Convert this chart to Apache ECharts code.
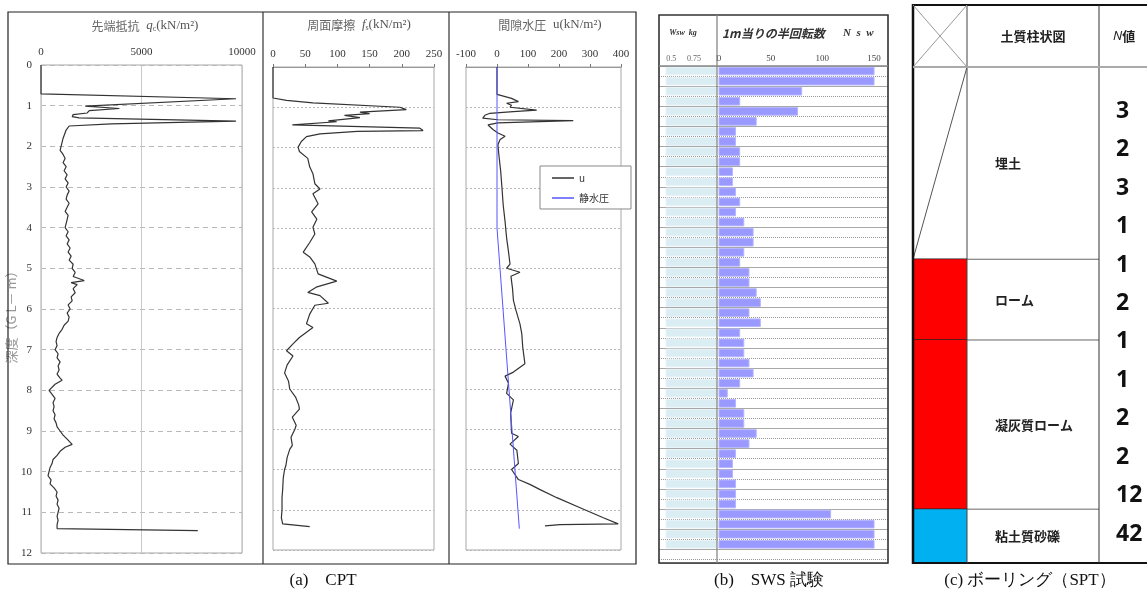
<!DOCTYPE html>
<html><head><meta charset="utf-8">
<script src="https://cdn.jsdelivr.net/npm/echarts@6/dist/echarts.min.js"></script>
<style>html,body{margin:0;padding:0;background:#fff}#c{width:1147px;height:592px}</style>
</head><body><div id="c"></div>
<script>
// ---------- DATA ----------
// CPT profiles: [depth (m), value]
const qcProfile = [[0,0],[0.71,0],[0.83,9700],[1.01,2200],[1.05,2250],[1.07,3900],[1.12,2400],[1.18,2300],[1.22,1600],[1.27,1550],[1.30,1900],[1.38,9700],[1.45,3500],[1.50,1400],[1.60,1250],[1.80,1100],[2.00,1000],[2.10,950],[2.20,1100],[2.30,1200],[2.40,1100],[2.50,1250],[2.60,1150],[2.70,1300],[2.80,1200],[2.90,1350],[3.00,1250],[3.10,1400],[3.20,1300],[3.30,1250],[3.40,1400],[3.50,1300],[3.60,1200],[3.70,1350],[3.80,1300],[3.90,1250],[4.00,1200],[4.10,1350],[4.20,1250],[4.30,1400],[4.40,1300],[4.50,1450],[4.60,1350],[4.70,1500],[4.80,1400],[4.90,1600],[5.00,1550],[5.10,1700],[5.20,1600],[5.30,2150],[5.35,1500],[5.40,1800],[5.50,1600],[5.60,1700],[5.70,1500],[5.80,1550],[5.90,1350],[6.00,1450],[6.10,1300],[6.20,1400],[6.30,1350],[6.40,1150],[6.50,1050],[6.60,900],[6.70,800],[6.80,750],[6.90,800],[7.00,700],[7.10,850],[7.20,800],[7.30,950],[7.40,850],[7.50,900],[7.60,800],[7.70,950],[7.75,1050],[7.85,700],[8.00,400],[8.10,550],[8.20,700],[8.30,600],[8.40,650],[8.50,600],[8.60,700],[8.70,650],[8.80,750],[8.90,800],[9.00,950],[9.10,1100],[9.20,1300],[9.33,1550],[9.40,1200],[9.50,950],[9.60,800],[9.70,600],[9.80,550],[9.90,450],[10.00,400],[10.10,350],[10.20,500],[10.30,450],[10.40,650],[10.50,800],[10.60,750],[10.70,850],[10.80,800],[10.90,900],[11.00,850],[11.10,800],[11.20,850],[11.30,800],[11.40,800],[11.45,7800]];
const fsProfile = [[0,0],[0.77,0],[0.83,21],[0.89,62],[1.0,197],[1.06,207],[1.12,135],[1.16,150],[1.2,111],[1.26,135],[1.34,86],[1.36,99],[1.44,30],[1.52,228],[1.58,233],[1.6,131],[1.66,73],[1.73,52],[1.85,44],[1.99,39],[2.1,41],[2.27,54],[2.48,57],[2.65,62],[2.9,65],[3.03,73],[3.15,62],[3.4,70],[3.6,60],[3.78,68],[3.98,62],[4.15,65],[4.36,57],[4.6,47],[4.72,57],[4.89,65],[5.14,70],[5.32,99],[5.47,67],[5.6,54],[5.68,73],[5.87,86],[5.92,65],[6.14,57],[6.38,52],[6.47,62],[6.72,41],[6.88,31],[7.05,21],[7.18,31],[7.4,22],[7.6,18],[7.8,24],[8.0,26],[8.2,35],[8.4,40],[8.5,41],[8.7,30],[8.9,36],[9.0,34],[9.2,28],[9.4,30],[9.5,26],[9.7,22],[9.9,20],[10.0,18],[10.2,16],[10.5,15],[10.7,14],[11.0,14],[11.2,13],[11.35,15],[11.42,57]];
const uProfile = [[0,0],[0.68,0],[0.78,47],[0.86,69],[0.9,31],[0.95,47],[1.0,42],[1.07,128],[1.11,52],[1.15,-23],[1.2,-39],[1.27,-46],[1.31,3],[1.33,246],[1.39,3],[1.44,-29],[1.56,-12],[1.64,3],[1.72,26],[1.8,10],[1.93,3],[2.18,6],[2.6,12],[3.0,16],[3.43,20],[3.84,26],[4.25,31],[4.58,37],[4.9,42],[5.0,31],[5.1,74],[5.2,45],[5.5,50],[5.8,53],[6.04,61],[6.38,74],[6.63,80],[6.96,83],[7.37,90],[7.58,53],[7.68,26],[7.86,37],[8.11,31],[8.27,53],[8.6,44],[9.1,47],[9.18,69],[9.37,42],[9.52,64],[9.85,69],[10.0,47],[10.25,69],[10.37,106],[10.5,139],[10.7,193],[10.95,268],[11.2,343],[11.35,391],[11.37,203],[11.4,155]];
const hydroProfile = [[0,0],[4.0,0],[11.47,72]];

// SWS: bottom depth of each 0.25 m row, Wsw (kN), Nsw (half turns / m)
const swsDepth = [0.25,0.5,0.75,1.0,1.25,1.5,1.75,2.0,2.25,2.5,2.75,3.0,3.25,3.5,3.75,4.0,4.25,4.5,4.75,5.0,5.25,5.5,5.75,6.0,6.25,6.5,6.75,7.0,7.25,7.5,7.75,8.0,8.25,8.5,8.75,9.0,9.25,9.5,9.75,10.0,10.25,10.5,10.75,11.0,11.25,11.5,11.75,12.0];
const swsWsw = [1,1,1,1,1,1,1,1,1,1,1,1,1,1,1,1,1,1,1,1,1,1,1,1,1,1,1,1,1,1,1,1,1,1,1,1,1,1,1,1,1,1,1,1,1,1,1,1];
const swsNsw = [150,150,80,20,76,36,16,16,20,20,13,13,16,20,16,24,33,33,24,20,29,29,36,40,29,40,20,24,24,29,33,20,8,16,24,24,36,29,16,13,13,16,16,16,108,150,150,150];
const wswTicks = [0.5,0.75,1];

// Boring log (SPT)
const layerNames = ['埋土','ローム','凝灰質ローム','粘土質砂礫'];
const layerTop = [0,5.0,7.1,11.5];
const layerBottom = [5.0,7.1,11.5,12.9];
const layerColors = [null,'#ff0000','#ff0000','#00b0f0'];
const sptDepth = [1.15,2.15,3.15,4.15,5.15,6.15,7.15,8.15,9.15,10.15,11.15,12.15];
const sptN = [3,2,3,1,1,2,1,1,2,2,12,42];

// ---------- CHART ----------
const SERIF = '"Liberation Serif","DejaVu Serif",serif';
const JP = '"Noto Sans CJK JP",sans-serif';
const chart = echarts.init(document.getElementById('c'), null, {renderer:'canvas', width:1147, height:592});

const cptX = (min, max, interval, gi, ticks) => ({
  type:'value', gridIndex:gi, min, max, interval, position:'top',
  axisLine:{show:ticks, lineStyle:{color:'#999'}},
  axisTick:{show:ticks, inside:false, length:3, lineStyle:{color:'#777'}},
  axisLabel:{color:'#333', fontFamily:SERIF, fontSize:11, margin:7, formatter:v => String(v)},
  splitLine:{show:!ticks, lineStyle:{color:'#c8c8c8', width:1}}
});
const cptY = (gi, labels, dashType) => ({
  type:'value', gridIndex:gi, inverse:true, min:0, max:12, interval:1,
  axisLine:{show:false}, axisTick:{show:false},
  axisLabel:{show:labels, color:'#333', fontFamily:SERIF, fontSize:11, margin:9},
  splitLine:{show:true, lineStyle:{color:'#b8b8b8', type:dashType, width:1}},
  name: labels ? '深度（G L－ m）' : '', nameLocation:'middle', nameRotate:90, nameGap:22,
  nameTextStyle:{color:'#999', fontFamily:JP, fontSize:13, padding:[0,0,0,-10]}
});

const swsBarItem = (fill, stroke, useGridLeft) => (params, api) => {
  const v = api.value(0), d = api.value(1);
  const cs = params.coordSys;
  const p0 = api.coord([0, d - 0.25]);
  const p1 = api.coord([v, d]);
  const x0 = useGridLeft ? cs.x : p0[0];
  return {type:'rect', shape:{x:x0, y:p0[1]+1.2, width:p1[0]-x0, height:p1[1]-p0[1]-2.4},
          style:{fill, stroke, lineWidth:1}};
};

const option = {
  animation:false,
  backgroundColor:'#fff',
  grid:[
    {left:41, top:65, width:201, height:488, show:true, borderColor:'#a8a8a8', borderWidth:1},
    {left:273, top:67, width:161, height:483, show:true, borderColor:'#a8a8a8', borderWidth:1},
    {left:466, top:67, width:155, height:483, show:true, borderColor:'#a8a8a8', borderWidth:1},
    {left:666, top:66, width:51, height:497},
    {left:719, top:66, width:169, height:497},
    {left:659, top:66, width:229, height:497},
    {left:913, top:67, width:234, height:496}
  ],
  xAxis:[
    cptX(0,10000,5000,0,false),
    cptX(0,250,50,1,true),
    cptX(-100,400,100,2,true),
    {type:'value', gridIndex:3, min:0.444, max:1.0, position:'top',
     axisLine:{show:false}, axisTick:{show:false}, splitLine:{show:false},
     axisLabel:{customValues:wswTicks, showMaxLabel:true, hideOverlap:false, color:'#666', fontSize:8, fontFamily:SERIF, margin:3}},
    {type:'value', gridIndex:4, min:0, max:163.5, interval:50, position:'top',
     axisLine:{show:false}, axisTick:{show:false}, splitLine:{show:false},
     axisLabel:{color:'#444', fontSize:9, fontFamily:SERIF, margin:3, formatter:v => (v % 50 === 0 ? String(v) : '')}},
    {type:'value', gridIndex:5, min:0, max:1, show:false},
    {type:'value', gridIndex:6, min:0, max:1, show:false}
  ],
  yAxis:[
    cptY(0, true, [5,4]),
    cptY(1, false, [2,2]),
    cptY(2, false, [2,2]),
    {type:'value', gridIndex:3, inverse:true, min:0, max:12.34, show:false},
    {type:'value', gridIndex:4, inverse:true, min:0, max:12.34, show:false},
    {type:'value', gridIndex:5, inverse:true, min:0, max:12.34, interval:0.25,
     axisLine:{show:false}, axisTick:{show:false}, axisLabel:{show:false},
     splitLine:{show:true, lineStyle:{color:'#999', type:[1,1], width:1}}},
    {type:'value', gridIndex:5, inverse:true, min:0, max:12.34, interval:0.5,
     axisLine:{show:false}, axisTick:{show:false}, axisLabel:{show:false},
     splitLine:{show:true, lineStyle:{color:'#a8a8a8', width:1.2}}},
    {type:'value', gridIndex:6, inverse:true, min:0, max:12.9, show:false}
  ],
  legend:{
    data:[{name:'u', icon:'rect'},{name:'静水圧', icon:'rect'}], orient:'vertical', left:540, top:166,
    itemWidth:22, itemHeight:1.5, itemGap:10,
    padding:[7,22,6,12], borderColor:'#888', borderWidth:1, backgroundColor:'#fff',
    textStyle:{fontFamily:JP, fontSize:10, color:'#333'}
  },
  series:[
    {name:'qc', type:'line', xAxisIndex:0, yAxisIndex:0, symbol:'none',
     lineStyle:{color:'#333', width:1.2}, data:qcProfile.map(p => [p[1], p[0]])},
    {name:'fs', type:'line', xAxisIndex:1, yAxisIndex:1, symbol:'none',
     lineStyle:{color:'#333', width:1.2}, data:fsProfile.map(p => [p[1], p[0]])},
    {name:'u', type:'line', xAxisIndex:2, yAxisIndex:2, symbol:'none',
     lineStyle:{color:'#333', width:1.2}, itemStyle:{color:'#333'}, data:uProfile.map(p => [p[1], p[0]])},
    {name:'静水圧', type:'line', xAxisIndex:2, yAxisIndex:2, symbol:'none',
     lineStyle:{color:'#5555ff', width:1}, itemStyle:{color:'#5555ff'}, data:hydroProfile.map(p => [p[1], p[0]])},
    {name:'Wsw', type:'custom', xAxisIndex:3, yAxisIndex:3, clip:false,
     renderItem:swsBarItem('#daedf3', '#e8f3f7', true),
     data:swsDepth.map((d,i) => [swsWsw[i], d])},
    {name:'Nsw', type:'custom', xAxisIndex:4, yAxisIndex:4, clip:false,
     renderItem:swsBarItem('#9999ff', '#b5b5ff', false),
     data:swsDepth.map((d,i) => [swsNsw[i], d])},
    {name:'layers', type:'custom', xAxisIndex:6, yAxisIndex:7, clip:false,
     data:layerTop.map((t,i) => [0, t, layerBottom[i]]),
     renderItem:(params, api) => {
       const i = params.dataIndex;
       const cs = params.coordSys;
       const yt = api.coord([0, layerTop[i]])[1];
       const yb = api.coord([0, layerBottom[i]])[1];
       const x0 = cs.x, x1 = cs.x + cs.width * 0.2308, x2 = cs.x + cs.width * 0.7949;
       const ch = [];
       if (layerColors[i]) {
         ch.push({type:'rect', shape:{x:x0, y:yt, width:x1-x0, height:yb-yt}, style:{fill:layerColors[i]}});
       } else {
         ch.push({type:'line', shape:{x1:x1, y1:yt, x2:x0, y2:yb}, style:{stroke:'#555', lineWidth:1}});
       }
       if (i < layerNames.length - 1) {
         ch.push({type:'line', shape:{x1:x0, y1:yb, x2:x1, y2:yb}, style:{stroke:'#222', lineWidth:1.5}});
         ch.push({type:'line', shape:{x1:x1, y1:yb, x2:x2, y2:yb}, style:{stroke:'#666', lineWidth:1}});
       }
       ch.push({type:'text', style:{text:layerNames[i], x:x1 + 28, y:(yt + yb) / 2,
         verticalAlign:'middle', align:'left', fill:'#222', font:'bold 13px ' + JP}});
       return {type:'group', children:ch};
     }},
    {name:'N', type:'custom', xAxisIndex:6, yAxisIndex:7, clip:false,
     data:sptDepth.map((d,i) => [sptN[i], d]),
     renderItem:(params, api) => {
       const cs = params.coordSys;
       const y = api.coord([0, api.value(1)])[1];
       return {type:'text', style:{text:String(api.value(0)), x:cs.x + cs.width * 0.8675, y,
         align:'left', verticalAlign:'middle', fill:'#111', font:'bold 23px "Open Sans","Noto Sans",sans-serif'}};
     }}
  ],
  graphic:[
    // CPT frame
    {type:'rect', shape:{x:8, y:12, width:628, height:552}, style:{fill:'none', stroke:'#222', lineWidth:1.2}, z:10},
    {type:'line', shape:{x1:263, y1:12, x2:263, y2:564}, style:{stroke:'#333', lineWidth:1.2}, z:10},
    {type:'line', shape:{x1:449, y1:12, x2:449, y2:564}, style:{stroke:'#333', lineWidth:1.2}, z:10},
    {type:'text', x:145, y:26, z:10, style:{text:'{j|先端抵抗}  {i|q}{s|c}{n|(kN/m²)}', align:'center', verticalAlign:'middle',
      rich:{j:{fontFamily:JP, fontSize:12, fill:'#666'}, i:{fontFamily:SERIF, fontStyle:'italic', fontSize:13, fill:'#555'},
            s:{fontFamily:SERIF, fontSize:8, fill:'#555', verticalAlign:'bottom'}, n:{fontFamily:SERIF, fontSize:13, fill:'#555'}}}},
    {type:'text', x:359, y:25, z:10, style:{text:'{j|周面摩擦}  {i|f}{s|s}{n|(kN/m²)}', align:'center', verticalAlign:'middle',
      rich:{j:{fontFamily:JP, fontSize:12, fill:'#666'}, i:{fontFamily:SERIF, fontStyle:'italic', fontSize:13, fill:'#555'},
            s:{fontFamily:SERIF, fontSize:8, fill:'#555', verticalAlign:'bottom'}, n:{fontFamily:SERIF, fontSize:13, fill:'#555'}}}},
    {type:'text', x:550, y:25, z:10, style:{text:'{j|間隙水圧}  {n|u(kN/m²)}', align:'center', verticalAlign:'middle',
      rich:{j:{fontFamily:JP, fontSize:12, fill:'#666'}, n:{fontFamily:SERIF, fontSize:13, fill:'#555'}}}},
    // SWS frame
    {type:'rect', shape:{x:659, y:15, width:229, height:548}, style:{fill:'none', stroke:'#333', lineWidth:1.6}, z:10},
    {type:'line', shape:{x1:717, y1:15, x2:717, y2:563}, style:{stroke:'#888', lineWidth:1.3}, z:10},
    {type:'line', shape:{x1:659, y1:66, x2:888, y2:66}, style:{stroke:'#888', lineWidth:1.6}, z:10},
    {type:'text', x:683, y:33, z:10, style:{text:'Wsw  kg', align:'center', verticalAlign:'middle', fill:'#333', font:'italic bold 8px ' + SERIF}},
    {type:'text', x:722, y:33, z:10, style:{text:'1m当りの半回転数', align:'left', verticalAlign:'middle', fill:'#333', font:'italic bold 12px ' + JP}},
    {type:'text', x:843, y:33, z:10, style:{text:'N  s  w', align:'left', verticalAlign:'middle', fill:'#333', font:'italic bold 11px ' + SERIF}},
    // SPT frame
    {type:'line', shape:{x1:913, y1:5, x2:1147, y2:5}, style:{stroke:'#111', lineWidth:2}, z:10},
    {type:'line', shape:{x1:913, y1:563, x2:1147, y2:563}, style:{stroke:'#111', lineWidth:2}, z:10},
    {type:'line', shape:{x1:913, y1:4, x2:913, y2:564}, style:{stroke:'#111', lineWidth:2.5}, z:10},
    {type:'line', shape:{x1:967, y1:5, x2:967, y2:563}, style:{stroke:'#444', lineWidth:1}, z:10},
    {type:'line', shape:{x1:1099, y1:5, x2:1099, y2:563}, style:{stroke:'#333', lineWidth:1}, z:10},
    {type:'line', shape:{x1:913, y1:67, x2:1147, y2:67}, style:{stroke:'#aaa', lineWidth:2}, z:10},
    {type:'line', shape:{x1:913, y1:5, x2:967, y2:67}, style:{stroke:'#999', lineWidth:1}, z:10},
    {type:'line', shape:{x1:967, y1:5, x2:913, y2:67}, style:{stroke:'#999', lineWidth:1}, z:10},
    {type:'text', x:1033, y:36, z:10, style:{text:'土質柱状図', align:'center', verticalAlign:'middle', fill:'#222', font:'bold 13px ' + JP}},
    {type:'text', x:1113, y:36, z:10, style:{text:'{i|N}{j|値}', align:'left', verticalAlign:'middle',
      rich:{i:{fontFamily:'"Noto Sans",sans-serif', fontStyle:'italic', fontSize:13, fill:'#222'}, j:{fontFamily:JP, fontSize:13, fontWeight:'bold', fill:'#222'}}}},
    // captions
    {type:'text', x:323, y:581, z:10, style:{text:'(a)　CPT', align:'center', verticalAlign:'middle', fill:'#111', font:'17px ' + SERIF}},
    {type:'text', x:769, y:581, z:10, style:{text:'(b)　SWS 試験', align:'center', verticalAlign:'middle', fill:'#111', font:'17px ' + SERIF}},
    {type:'text', x:1030, y:581, z:10, style:{text:'(c) ボーリング（SPT）', align:'center', verticalAlign:'middle', fill:'#111', font:'17px ' + SERIF}}
  ]
};
chart.setOption(option);
</script>
</body></html>
